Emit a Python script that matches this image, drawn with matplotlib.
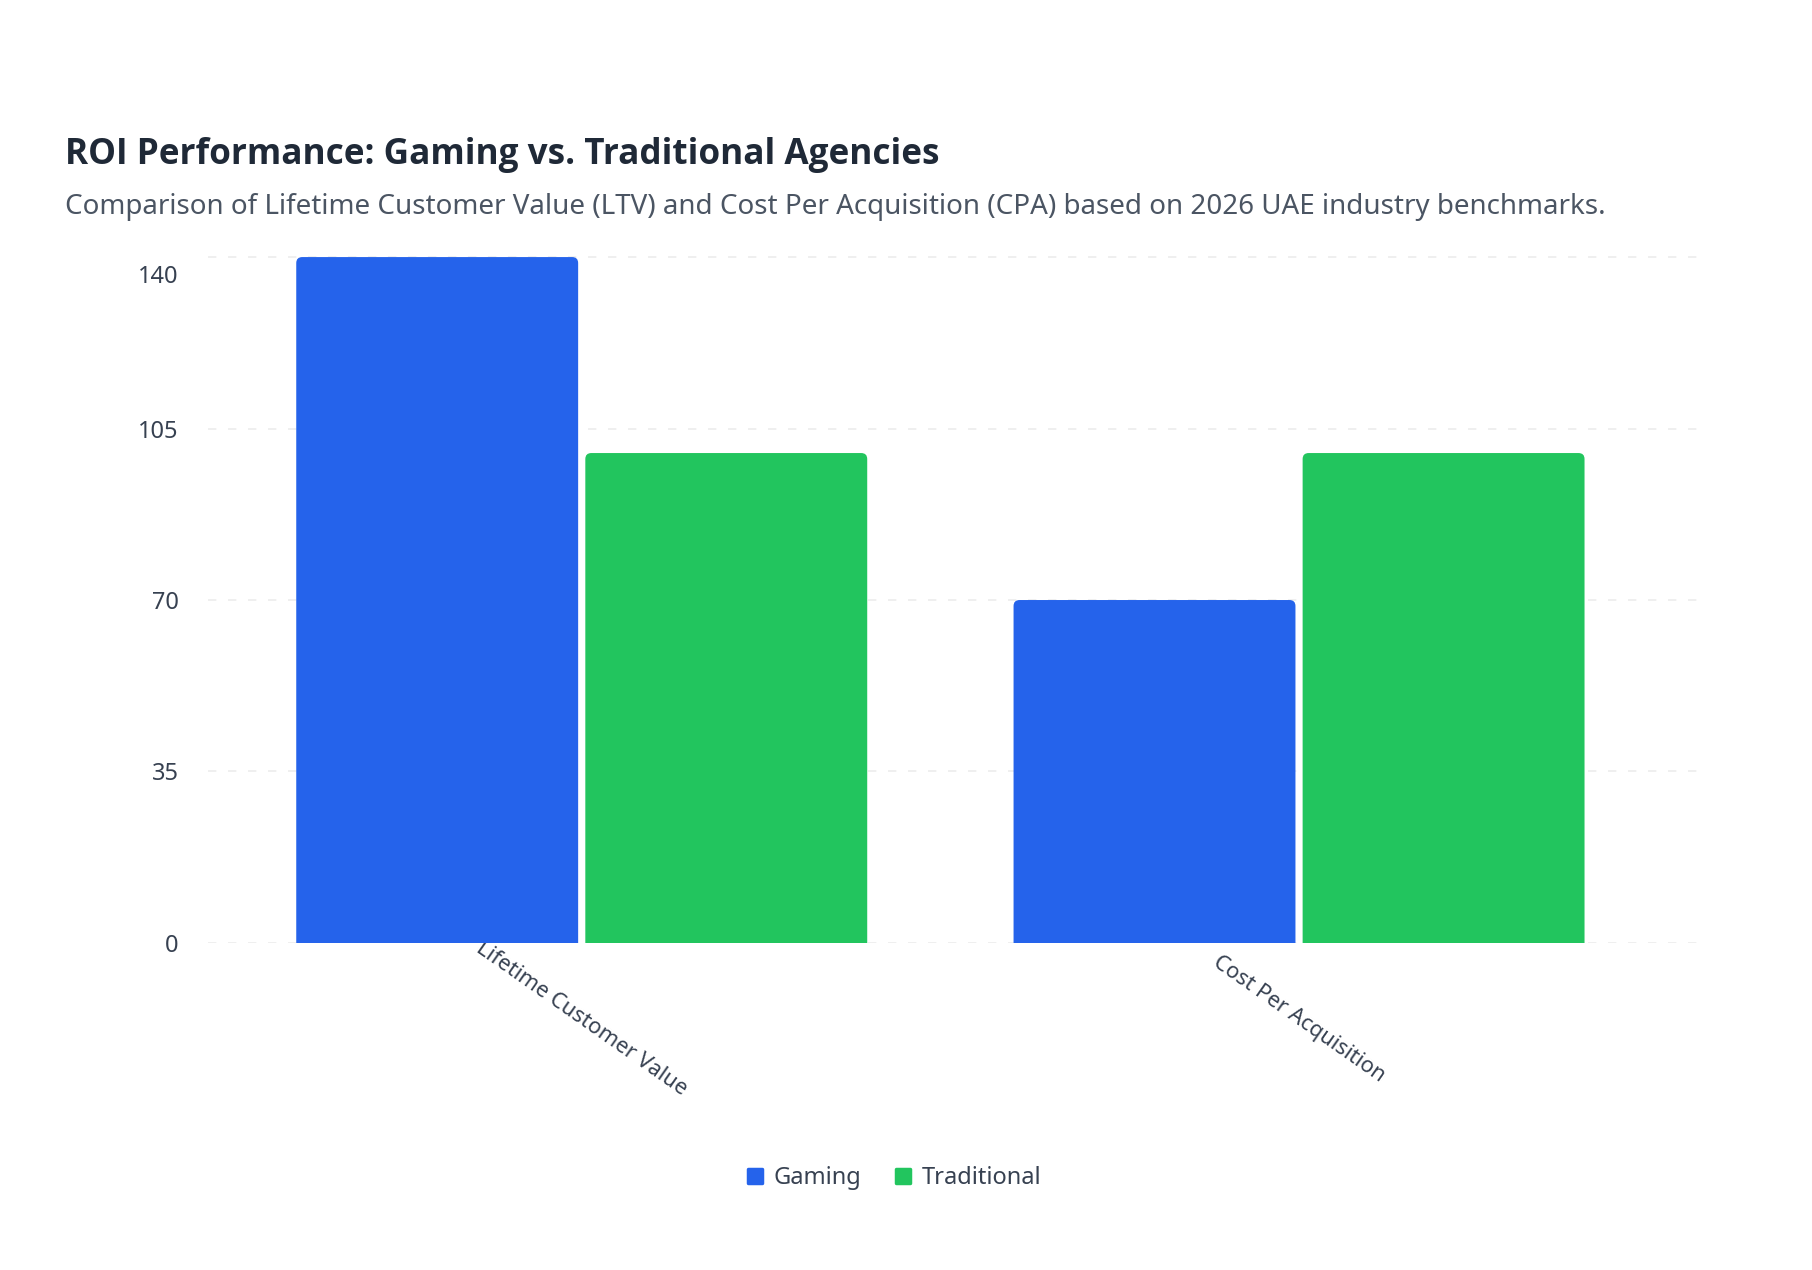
import matplotlib

matplotlib.use("Agg")
import matplotlib.patheffects as pe
import matplotlib.pyplot as plt
import matplotlib.transforms as mtransforms
import numpy as np
from matplotlib import font_manager
from matplotlib.lines import Line2D
from matplotlib.markers import MarkerStyle
from matplotlib.patches import FancyBboxPatch

plt.rcParams["font.family"] = ["Noto Sans", "DejaVu Sans"]

# data
categories = ["Lifetime Customer Value", "Cost Per Acquisition"]
series_names = ["Gaming", "Traditional"]
gaming = [140, 70]
traditional = [100, 100]
yticks = [0, 35, 70, 105, 140]

colors = ["#2563eb", "#22c55e"]
title_color = "#1f2937"
subtitle_color = "#4b5563"
tick_color = "#374151"


def bold_family():
    # pick a family that really has a bold face installed
    for fam in ["Noto Sans", "Open Sans", "Lato", "Roboto"]:
        for f in font_manager.fontManager.ttflist:
            if f.name == fam and f.weight in ("bold", 700, 600, "semibold", "demibold"):
                return fam, False
            if f.name == fam and isinstance(f.weight, int) and f.weight >= 600:
                return fam, False
    return "Noto Sans", True


DPI = 100
fig = plt.figure(figsize=(18.12, 12.70), dpi=DPI)
ax = fig.add_axes([0.1148, 0.2575, 0.8234, 0.5478])

x = np.arange(len(categories))
width = 0.393
offset = 0.2015

# rounded top corners, ~6 px radius
px_x = 717.5  # pixels per x unit
px_y = 4.9  # pixels per y unit
rad_x = 6 / px_x
rad_y = 6 / px_y

for vals, off, color in zip([gaming, traditional], [-offset, offset], colors):
    bars = ax.bar(x + off, vals, width, color=color)
    for bar in bars:
        bar.set_visible(False)
        patch = FancyBboxPatch(
            (bar.get_x(), -2 * rad_y),
            bar.get_width(),
            bar.get_height() + 2 * rad_y,
            boxstyle=f"round,pad=0,rounding_size={rad_x}",
            mutation_aspect=rad_y / rad_x,
            facecolor=color,
            edgecolor="none",
            zorder=2,
        )
        ax.add_patch(patch)

ax.set_xlim(-0.521, 1.559)
ax.set_ylim(0, 142)

ax.set_yticks(yticks)
ax.set_yticklabels([str(v) for v in yticks])
ax.tick_params(axis="y", length=0, pad=21, labelsize=17, labelcolor=tick_color)
ax.yaxis.grid(True, color="#ececec", linestyle=(0, (5, 7)), linewidth=1.2, zorder=0)
ax.set_axisbelow(True)

# top label sits a bit under its gridline in the reference
top_label = ax.get_yticklabels()[-1]
top_label.set_transform(
    top_label.get_transform() + mtransforms.ScaledTranslation(0, -17 / DPI, fig.dpi_scale_trans)
)

ax.set_xticks(x)
ax.set_xticklabels(categories, rotation=-35, ha="center", va="center", rotation_mode="anchor")
ax.tick_params(axis="x", length=0, pad=54.7, labelsize=15.7, labelcolor=tick_color)

for spine in ax.spines.values():
    spine.set_visible(False)

fam, fake_bold = bold_family()
title = fig.text(
    0.0359, 1 - 164 / 1270, "ROI Performance: Gaming vs. Traditional Agencies",
    fontsize=25.3, fontweight="bold", family=[fam, "DejaVu Sans"], color=title_color,
    va="baseline", ha="left",
)
if fake_bold:
    title.set_path_effects([pe.withStroke(linewidth=1.6, foreground=title_color)])

fig.text(
    0.0359, 1 - 214 / 1270,
    "Comparison of Lifetime Customer Value (LTV) and Cost Per Acquisition (CPA) "
    "based on 2026 UAE industry benchmarks.",
    fontsize=20, color=subtitle_color, va="baseline", ha="left",
)

# rounded square legend keys
key = MarkerStyle("s", joinstyle="round")
handles = [
    Line2D([], [], marker=key, linestyle="none", markersize=9.5, markerfacecolor=c,
           markeredgecolor=c, markeredgewidth=2.5)
    for c in colors
]
leg = fig.legend(
    handles, series_names, loc="center", bbox_to_anchor=(0.493, 1 - 1178 / 1270),
    ncol=2, frameon=False, fontsize=17, handlelength=0.8, handletextpad=0.42,
    columnspacing=1.33,
)
for t in leg.get_texts():
    t.set_color(tick_color)

fig.savefig("out.png", dpi=DPI, facecolor="white")
